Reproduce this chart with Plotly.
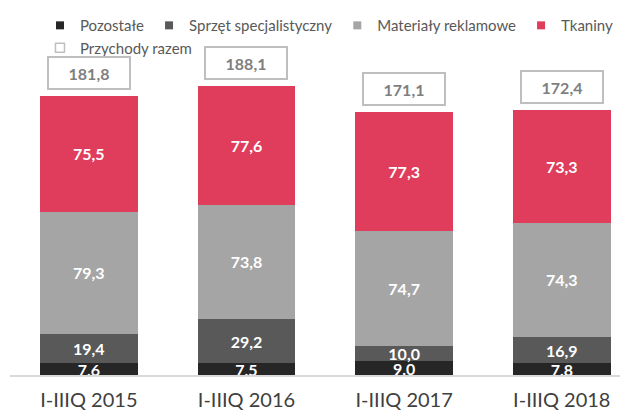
import plotly.graph_objects as go

categories = ["I-IIIQ 2015", "I-IIIQ 2016", "I-IIIQ 2017", "I-IIIQ 2018"]
pozostale = [7.6, 7.5, 9.0, 7.8]
sprzet = [19.4, 29.2, 10.0, 16.9]
materialy = [79.3, 73.8, 74.7, 74.3]
tkaniny = [75.5, 77.6, 77.3, 73.3]
totals = [181.8, 188.1, 171.1, 172.4]

series = [
    ("Pozostałe", pozostale, "#262626"),
    ("Sprzęt specjalistyczny", sprzet, "#595959"),
    ("Materiały reklamowe", materialy, "#A5A5A5"),
    ("Tkaniny", tkaniny, "#E03C5B"),
]

def fmt(v):
    return f"{v:.1f}".replace(".", ",")

fig = go.Figure()
for name, vals, col in series:
    fig.add_trace(go.Bar(
        x=categories, y=vals, name=name, marker=dict(color=col, line=dict(width=0)),
        width=0.62, showlegend=False,
        text=[fmt(v) for v in vals], textposition="inside", insidetextanchor="middle",
        textangle=0, cliponaxis=False,
        textfont=dict(family="Lato", size=16, color="white", weight="bold"),
    ))
    # legend entry
    fig.add_trace(go.Scatter(
        x=[None], y=[None], mode="markers", name=name, legend="legend",
        marker=dict(symbol="square", color=col, size=8),
    ))

fig.add_trace(go.Scatter(
    x=[None], y=[None], mode="markers", name="Przychody razem", legend="legend2",
    marker=dict(symbol="square-open", color="#BFBFBF", size=9, line=dict(width=1.5)),
))

for c, t in zip(categories, totals):
    fig.add_annotation(
        x=c, y=t, text=f"<b>{fmt(t)}</b>", showarrow=False, yshift=23,
        font=dict(family="Lato", size=16, color="#7F7F7F"),
        bgcolor="white", bordercolor="#BFBFBF", borderwidth=2, borderpad=2,
        width=76, height=26,
    )

legend_font = dict(family="Lato", size=15, color="#595959")
fig.update_layout(
    width=620, height=403,
    barmode="stack",
    plot_bgcolor="white", paper_bgcolor="white",
    margin=dict(l=2, r=0, t=0, b=36),
    uniformtext=dict(minsize=16, mode="show"),
    showlegend=True,
    legend=dict(
        orientation="h", x=0.0485, xanchor="left", y=0.997, yanchor="top",
        traceorder="normal", font=legend_font,
        itemclick=False, itemdoubleclick=False,
    ),
    legend2=dict(
        orientation="h", x=0.0485, xanchor="left", y=0.936, yanchor="top",
        font=legend_font, itemclick=False, itemdoubleclick=False,
    ),
    xaxis=dict(
        range=[-0.5, 3.42], showgrid=False, showline=True, linecolor="#D9D9D9", linewidth=2,
        ticks="outside", ticklen=6, tickcolor="rgba(0,0,0,0)",
        tickfont=dict(family="Lato", size=20, color="#404040"),
        fixedrange=True,
    ),
    yaxis=dict(range=[0, 238.8], visible=False, fixedrange=True),
)

fig.write_html("out.html")
